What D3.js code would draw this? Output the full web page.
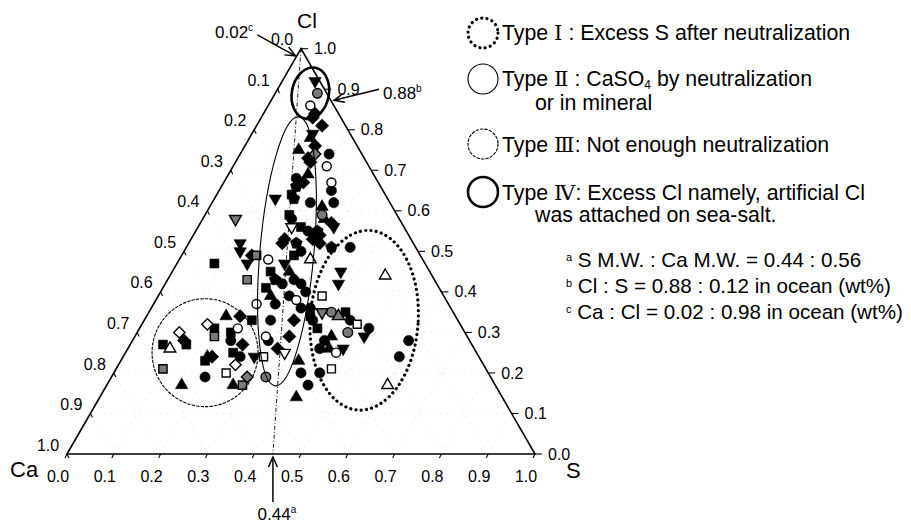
<!DOCTYPE html>
<html><head><meta charset="utf-8">
<script src="https://cdn.jsdelivr.net/npm/d3@7"></script>
<style>
body{margin:0;background:#fff}
svg{display:block}
text{font-family:"Liberation Sans",Arial,sans-serif;fill:#000}
.rn{font-family:"DejaVu Serif","Liberation Serif",serif}
</style>
</head><body>
<svg id="chart" width="911" height="525"></svg>
<script>
// ---------- DATA : each point is [Ca, Cl, S] (weight fractions) ----------
const filledCircle = [[0.07,0.74,0.19],[0.17,0.68,0.15],[0.11,0.65,0.24],[0.17,0.62,0.21],[0.12,0.62,0.26],[0.23,0.58,0.19],[0.21,0.55,0.24],[0.25,0.50,0.25],[0.14,0.51,0.35],[0.30,0.43,0.27],[0.29,0.42,0.29],[0.33,0.42,0.25],[0.33,0.39,0.28],[0.37,0.37,0.26],[0.29,0.40,0.31],[0.32,0.36,0.32],[0.30,0.36,0.34],[0.31,0.33,0.36],[0.23,0.33,0.44],[0.20,0.31,0.49],[0.40,0.33,0.27],[0.31,0.28,0.41],[0.13,0.28,0.59],[0.17,0.24,0.59],[0.33,0.26,0.41],[0.40,0.20,0.40],[0.36,0.20,0.44],[0.40,0.17,0.43],[0.51,0.28,0.21],[0.51,0.24,0.25],[0.61,0.19,0.20],[0.43,0.28,0.29]];
const filledSquare = [[0.20,0.64,0.16],[0.23,0.59,0.18],[0.22,0.56,0.22],[0.27,0.49,0.24],[0.34,0.45,0.21],[0.23,0.35,0.42],[0.31,0.34,0.35],[0.31,0.31,0.38],[0.45,0.47,0.08],[0.37,0.41,0.22],[0.53,0.31,0.16],[0.50,0.30,0.20],[0.44,0.33,0.23],[0.61,0.27,0.12],[0.66,0.27,0.07],[0.59,0.23,0.18],[0.52,0.25,0.23]];
const filledDiamond = [[0.06,0.83,0.11],[0.05,0.81,0.14],[0.05,0.84,0.11],[0.09,0.76,0.15],[0.12,0.73,0.15],[0.12,0.72,0.16],[0.16,0.67,0.17],[0.15,0.57,0.28],[0.19,0.54,0.27],[0.21,0.53,0.26],[0.27,0.53,0.20],[0.28,0.52,0.20],[0.20,0.52,0.28],[0.36,0.49,0.15],[0.35,0.33,0.32],[0.38,0.29,0.33],[0.42,0.26,0.32],[0.46,0.34,0.20],[0.61,0.28,0.11],[0.49,0.27,0.24],[0.57,0.24,0.19]];
const filledTriUp = [[0.09,0.78,0.13],[0.13,0.75,0.12],[0.14,0.69,0.17],[0.15,0.61,0.24],[0.16,0.58,0.26],[0.30,0.45,0.25],[0.37,0.39,0.24],[0.29,0.29,0.42],[0.31,0.26,0.43],[0.39,0.23,0.38],[0.44,0.14,0.42],[0.49,0.34,0.17],[0.58,0.24,0.18],[0.67,0.17,0.16],[0.56,0.17,0.27]];
const filledTriDown = [[0.01,0.92,0.07],[0.08,0.79,0.13],[0.24,0.63,0.13],[0.15,0.56,0.29],[0.37,0.52,0.11],[0.38,0.50,0.12],[0.30,0.47,0.23],[0.19,0.45,0.36],[0.21,0.42,0.37],[0.22,0.29,0.49],[0.28,0.26,0.46],[0.38,0.47,0.15],[0.48,0.24,0.28]];
const filledPentagon = [[0.18,0.66,0.16],[0.20,0.63,0.17],[0.19,0.55,0.26],[0.25,0.52,0.23],[0.18,0.51,0.31],[0.34,0.43,0.23]];
const grayCircle = [[0.02,0.89,0.09],[0.16,0.59,0.25],[0.26,0.35,0.39],[0.25,0.30,0.45],[0.48,0.19,0.33]];
const graySquare = [[0.35,0.49,0.16],[0.40,0.43,0.17],[0.54,0.29,0.17],[0.69,0.21,0.10],[0.54,0.17,0.29]];
const grayDiamond = [[0.10,0.74,0.16],[0.52,0.19,0.29]];
const grayTriUp = [[0.25,0.34,0.41]];
const grayTriDown = [[0.35,0.58,0.07],[0.28,0.35,0.37]];
const openCircle = [[0.05,0.86,0.09],[0.09,0.71,0.20],[0.10,0.67,0.23],[0.33,0.48,0.19],[0.32,0.38,0.30],[0.30,0.25,0.45],[0.41,0.37,0.22],[0.48,0.31,0.21],[0.43,0.29,0.28]];
const openSquare = [[0.26,0.39,0.35],[0.22,0.32,0.46],[0.46,0.24,0.30],[0.33,0.21,0.46],[0.56,0.20,0.24]];
const openDiamond = [[0.54,0.32,0.14],[0.61,0.30,0.09],[0.53,0.22,0.25]];
const openTriUp = [[0.24,0.48,0.28],[0.10,0.44,0.46],[0.23,0.17,0.60],[0.65,0.26,0.09]];
const openTriDown = [[0.24,0.56,0.20],[0.41,0.25,0.34]];

const tickValues = [0,0.1,0.2,0.3,0.4,0.5,0.6,0.7,0.8,0.9,1.0];
const tickLabels = ["0.0","0.1","0.2","0.3","0.4","0.5","0.6","0.7","0.8","0.9","1.0"];
const axisTitles = ["Ca","Cl","S"];

// reference ratios [Ca, Cl, S]
const ratioSCa = [0.56,0.00,0.44];   // S M.W. : Ca M.W. = 0.44 : 0.56
const ratioClS = [0.00,0.88,0.12];   // Cl : S = 0.88 : 0.12
const ratioCaCl = [0.02,0.98,0.00];  // Ca : Cl = 0.02 : 0.98

// type regions: centre [Ca, Cl, S]
const regionCentres = {I:[0.20,0.33,0.47], II:[0.28,0.50,0.22], III:[0.58,0.25,0.17], IV:[0.035,0.89,0.075]};

// ---------- DRAW ----------
const svg = d3.select("#chart");
const xs = d3.scaleLinear().domain([0,1]).range([67,535]);
const ys = d3.scaleLinear().domain([0,1]).range([454,454-468*Math.sqrt(3)/2]);
const P = d => [xs(d[2] + d[1]/2), ys(d[1])];

// faint grid
const grid = svg.append("g").attr("stroke","#d6d6d6").attr("stroke-width",0.8).attr("stroke-dasharray","1,6").attr("fill","none");
tickValues.slice(1,-1).forEach(k=>{
  [[[1-k,k,0],[0,k,1-k]],[[1-k,0,k],[0,1-k,k]],[[k,1-k,0],[k,0,1-k]]].forEach(seg=>{
    grid.append("path").attr("d", d3.line()(seg.map(P)));
  });
});

// triangle
svg.append("path").attr("d", d3.line()([[1,0,0],[0,1,0],[0,0,1]].map(P))+"Z")
  .attr("fill","none").attr("stroke","#000").attr("stroke-width",1.6);

// ticks & labels
const ax = svg.append("g").attr("stroke","#000").attr("stroke-width",1.1);
const lab = svg.append("g").attr("font-size",16);
tickValues.forEach((v,i)=>{
  let p = P([v,1-v,0]);
  ax.append("line").attr("x1",p[0]).attr("y1",p[1]).attr("x2",p[0]+2).attr("y2",p[1]+4);
  lab.append("text").attr("x",p[0]-19).attr("y",p[1]-9).attr("text-anchor","middle").attr("dy","0.35em").text(tickLabels[i]);
  p = P([1-v,0,v]);
  ax.append("line").attr("x1",p[0]).attr("y1",p[1]).attr("x2",p[0]-2).attr("y2",p[1]+4);
  lab.append("text").attr("x",p[0]-9).attr("y",p[1]+22).attr("text-anchor","middle").attr("dy","0.35em").text(tickLabels[i]);
  p = P([0,v,1-v]);
  ax.append("line").attr("x1",p[0]).attr("y1",p[1]).attr("x2",p[0]+7).attr("y2",p[1]);
  lab.append("text").attr("x",p[0]+13).attr("y",p[1]).attr("dy","0.35em").text(tickLabels[i]);
});

// axis titles
const tCa = P([1,0,0]), tCl = P([0,1,0]), tS = P([0,0,1]);
svg.append("text").attr("x",tCa[0]-57).attr("y",tCa[1]+23).attr("font-size",22).text(axisTitles[0]);
svg.append("text").attr("x",tCl[0]+6).attr("y",tCl[1]-21).attr("font-size",21).attr("text-anchor","middle").text(axisTitles[1]);
svg.append("text").attr("x",tS[0]+31).attr("y",tS[1]+24).attr("font-size",22).text(axisTitles[2]);

// S:Ca reference line (dash-dot)
svg.append("path").attr("d", d3.line()([[0,1,0],ratioSCa].map(P)))
  .attr("stroke","#000").attr("stroke-width",0.9).attr("stroke-dasharray","4,2,1,2").attr("fill","none");

function region(c, rx, ry, rot, sw, dash){
  const p = P(c);
  const e = svg.append("ellipse").attr("cx",0).attr("cy",0).attr("rx",rx).attr("ry",ry)
    .attr("transform",`translate(${p[0]},${p[1]}) rotate(${rot})`)
    .attr("fill","none").attr("stroke","#000").attr("stroke-width",sw);
  if(dash) e.attr("stroke-dasharray",dash).attr("stroke-linecap","round");
}

// markers
const symPent = {draw(ctx,size){const r=Math.sqrt(size/2.378);for(let i=0;i<5;i++){const a=-Math.PI/2+i*2*Math.PI/5;const x=r*Math.cos(a),y=r*Math.sin(a);i?ctx.lineTo(x,y):ctx.moveTo(x,y);}ctx.closePath();}};
const GRAY = "#7a7a7a";
const series = [
  {d:filledCircle, t:d3.symbolCircle, s:82, r:0, f:"#000"},
  {d:filledSquare, t:d3.symbolSquare, s:80, r:0, f:"#000"},
  {d:filledDiamond, t:d3.symbolSquare, s:88, r:45, f:"#000"},
  {d:filledTriUp, t:d3.symbolTriangle, s:66, r:0, f:"#000"},
  {d:filledTriDown, t:d3.symbolTriangle, s:66, r:180, f:"#000"},
  {d:filledPentagon, t:symPent, s:90, r:0, f:"#000"},
  {d:grayCircle, t:d3.symbolCircle, s:72, r:0, f:GRAY},
  {d:graySquare, t:d3.symbolSquare, s:68, r:0, f:GRAY},
  {d:grayDiamond, t:d3.symbolSquare, s:68, r:45, f:GRAY},
  {d:grayTriUp, t:d3.symbolTriangle, s:62, r:0, f:GRAY},
  {d:grayTriDown, t:d3.symbolTriangle, s:62, r:180, f:GRAY},
  {d:openCircle, t:d3.symbolCircle, s:64, r:0, f:"#fff"},
  {d:openSquare, t:d3.symbolSquare, s:64, r:0, f:"#fff"},
  {d:openDiamond, t:d3.symbolSquare, s:64, r:45, f:"#fff"},
  {d:openTriUp, t:d3.symbolTriangle, s:58, r:0, f:"#fff"},
  {d:openTriDown, t:d3.symbolTriangle, s:58, r:180, f:"#fff"}
];
const mk = svg.append("g");
series.forEach(sr=>{
  mk.append("g").selectAll("path").data(sr.d).join("path")
    .attr("d", d3.symbol().type(sr.t).size(sr.s))
    .attr("transform", d=>{const p=P(d);return `translate(${p[0]},${p[1]}) rotate(${sr.r})`;})
    .attr("fill", sr.f).attr("stroke","#000").attr("stroke-width", sr.f==="#000"?0.6:1.4);
});

region(regionCentres.I, 54, 90, 4, 3.2, "0.1,5.2");
region(regionCentres.II, 27, 135, 5, 1.1, null);
region(regionCentres.III, 53, 54, 0, 1.1, "2.5,2");
region(regionCentres.IV, 18.5, 26, 11, 2.6, null);

// arrows with annotation text
function arrow(tip, dx, dy){
  const tail=[tip[0]+dx, tip[1]+dy];
  const a=Math.atan2(-dy,-dx), L=11, h=0.42;
  const g=svg.append("g").attr("stroke","#000").attr("stroke-width",1.5).attr("fill","none");
  g.append("line").attr("x1",tail[0]).attr("y1",tail[1]).attr("x2",tip[0]).attr("y2",tip[1]);
  g.append("path").attr("d",`M${tip[0]-L*Math.cos(a-h)},${tip[1]-L*Math.sin(a-h)}L${tip[0]},${tip[1]}L${tip[0]-L*Math.cos(a+h)},${tip[1]-L*Math.sin(a+h)}`);
}
function note(x,y,val,sup,anchor){
  const t=svg.append("text").attr("x",x).attr("y",y).attr("font-size",17).attr("text-anchor",anchor||"start");
  t.append("tspan").text(val);
  t.append("tspan").attr("font-size",10).attr("dy",-7).text(sup);
}
let p = P(ratioCaCl); arrow([p[0]-1,p[1]-1], -38, -21); note(215,38,"0.02","c");
p = P(ratioClS); arrow([p[0]+5,p[1]+3], 45, -11); note(383,99,"0.88","b");
p = P(ratioSCa); arrow([p[0],p[1]+3], 0, 45); note(p[0]+4,520,"0.44","a","middle");

// legend
const LX = 483;
const leg = svg.append("g");
[[33,3.2,"0.1,5.2"],[79,1.1,null],[144,1.1,"2.5,2"],[192,2.6,null]].forEach(([cy,sw,dash])=>{
  const c = leg.append("circle").attr("cx",LX).attr("cy",cy).attr("r",15).attr("fill","none").attr("stroke","#000").attr("stroke-width",sw);
  if(dash) c.attr("stroke-dasharray",dash).attr("stroke-linecap","round");
});
const FS = 21.3;
function legLine(y, numeral, rest, sub, rest2){
  const t = leg.append("text").attr("x",502).attr("y",y).attr("font-size",FS);
  t.append("tspan").text("Type ");
  t.append("tspan").attr("class","rn").text(numeral);
  t.append("tspan").text(rest);
  if(sub){ t.append("tspan").attr("font-size",12).attr("dy",3).text(sub); t.append("tspan").attr("dy",-3).text(rest2); }
}
legLine(40,"Ⅰ"," : Excess S after neutralization");
legLine(86,"Ⅱ"," : CaSO","4"," by neutralization");
leg.append("text").attr("x",535).attr("y",110).attr("font-size",FS).text("or in mineral");
legLine(152,"Ⅲ",": Not enough neutralization");
legLine(200,"Ⅳ",": Excess Cl namely, artificial Cl");
leg.append("text").attr("x",535).attr("y",222).attr("font-size",FS).text("was attached on sea-salt.");
const foot = [["a"," S M.W. : Ca M.W. = 0.44 : 0.56",267],["b"," Cl : S = 0.88 : 0.12 in ocean (wt%)",293],["c"," Ca : Cl = 0.02 : 0.98 in ocean (wt%)",319]];
foot.forEach(([s,txt,y])=>{
  const t = leg.append("text").attr("x",566).attr("y",y).attr("font-size",20.6);
  t.append("tspan").attr("font-size",11).attr("dy",-6).text(s);
  t.append("tspan").attr("dy",6).text(txt);
});
</script>
</body></html>
